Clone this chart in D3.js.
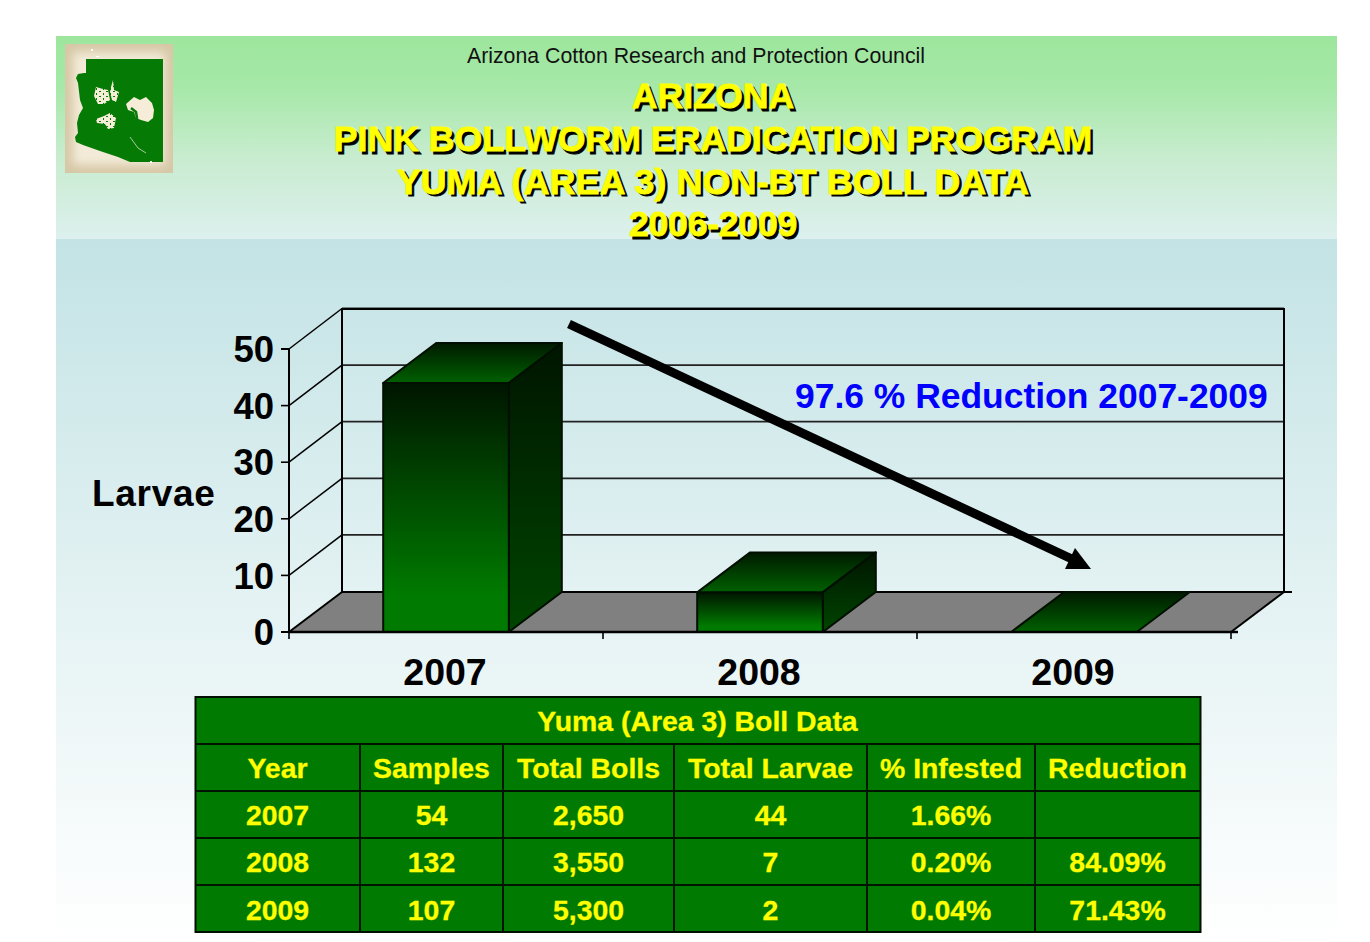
<!DOCTYPE html>
<html><head><meta charset="utf-8">
<script src="https://cdn.jsdelivr.net/npm/d3@7/dist/d3.min.js"></script>
<style>html,body{margin:0;padding:0;background:#fff}svg{display:block}text{font-family:"Liberation Sans",Arial,sans-serif}</style>
</head><body><svg id="c" width="1370" height="942"></svg>
<script>
const years = ["2007","2008","2009"];
const larvae = [44, 7, 0];
const yTicks = [0,10,20,30,40,50];
const titleLines = ["ARIZONA","PINK BOLLWORM ERADICATION PROGRAM","YUMA (AREA 3) NON-BT BOLL DATA","2006-2009"];
const titleSpacing = [0,0,0.22,-0.3];
const tableTitle = "Yuma (Area 3) Boll Data";
const tableHeaders = ["Year","Samples","Total Bolls","Total Larvae","% Infested","Reduction"];
const tableRows = [
  ["2007","54","2,650","44","1.66%",""],
  ["2008","132","3,550","7","0.20%","84.09%"],
  ["2009","107","5,300","2","0.04%","71.43%"]
];
const colEdges = [195,360,503,674,867,1035,1200];
const rowTop = 697, rowH = 47;

const svg = d3.select("#c");
const defs = svg.append("defs");
function grad(id, stops){
  const g = defs.append("linearGradient").attr("id",id).attr("x1",0).attr("y1",0).attr("x2",0).attr("y2",1);
  stops.forEach(([o,c])=>g.append("stop").attr("offset",o).attr("stop-color",c));
}
grad("head",[[0,"#9de69d"],[0.25,"#a6e8a8"],[0.6,"#c8eccf"],[1,"#ddf0ee"]]);
grad("body",[[0,"#c3e3e5"],[0.55,"#e6f3f4"],[1,"#ffffff"]]);
grad("front",[[0,"#001500"],[0.85,"#007a00"],[1,"#007a00"]]);
grad("top",[[0,"#001a00"],[1,"#006000"]]);
grad("side",[[0,"#001500"],[1,"#004500"]]);
const bev = defs.append("filter").attr("id","bev").attr("x","-20%").attr("y","-20%").attr("width","140%").attr("height","140%");
bev.append("feGaussianBlur").attr("stdDeviation",5);
const spk = defs.append("pattern").attr("id","spk").attr("width",7).attr("height",5).attr("patternUnits","userSpaceOnUse");
spk.append("rect").attr("width",7).attr("height",5).attr("fill","#f5edd8");
spk.append("rect").attr("x",1).attr("y",1).attr("width",2).attr("height",1).attr("fill","#0a7a0a");
spk.append("rect").attr("x",5).attr("y",3).attr("width",1).attr("height",2).attr("fill","#0a7a0a");

// background
svg.append("rect").attr("x",56).attr("y",239).attr("width",1281).attr("height",703).attr("fill","url(#body)");
svg.append("rect").attr("x",56).attr("y",36).attr("width",1281).attr("height",203).attr("fill","url(#head)");

// logo
const logo = svg.append("g");
logo.append("rect").attr("x",65).attr("y",44).attr("width",108).attr("height",129).attr("fill","#d6c8a6");
logo.append("rect").attr("x",73).attr("y",52).attr("width",92).attr("height",113).attr("fill","#f3ebd8").attr("filter","url(#bev)");
logo.append("path").attr("fill","#057a05")
  .attr("d","M86,59H163V162H130L118,157L100,151L83,145L76,142L75,137L78,133L77,123L79,115L83,108L80,100L78,83L76,78L78,74L84,73L86,73Z");
logo.append("g").attr("fill","url(#spk)").selectAll("path").data([
  "M96,87L103,89L108,90L110,100L104,104L98,104L94,96Z",
  "M111,87L113,80L114,90L119,92L116,102L112,100L110,92Z",
  "M96,119L104,116L110,113L116,118L114,128L108,129L105,124L97,123Z"
]).join("path").attr("d",d=>d);
logo.append("path").attr("fill","#f5edd8").attr("d","M126,104L134,97L140,100L146,97L152,103L154,110L153,118L148,122L141,120L136,118L134,112L128,110Z");
logo.append("path").attr("d","M130,137L138,148L146,153").attr("fill","none").attr("stroke","#cfe0c4").attr("stroke-width",0.8);
logo.append("path").attr("d","M131,108L136,112L137,118L134,120").attr("fill","none").attr("stroke","#0a7a0a").attr("stroke-width",2.5);
logo.append("rect").attr("x",91).attr("y",49).attr("width",2).attr("height",2).attr("fill","#fff");
logo.append("rect").attr("x",96).attr("y",56).attr("width",3).attr("height",1).attr("fill","#fff");
logo.append("rect").attr("x",150).attr("y",161).attr("width",2).attr("height",2).attr("fill","#fff");

// heading
svg.append("text").attr("x",696).attr("y",63).attr("text-anchor","middle").attr("font-size",21.3).attr("fill","#111").text("Arizona Cotton Research and Protection Council");
const tg = svg.append("g").attr("font-weight","bold").attr("font-size",35.7).attr("text-anchor","middle");
titleLines.forEach((t,i)=>{
  const yy = 108.3 + i*42.7;
  tg.append("text").attr("x",715.5).attr("y",yy+2.5).attr("letter-spacing",titleSpacing[i]).attr("fill","#000").attr("stroke","#000").attr("stroke-width",0.8).text(t);
  tg.append("text").attr("x",713).attr("y",yy).attr("letter-spacing",titleSpacing[i]).attr("fill","#ffff00").attr("stroke","#ffff00").attr("stroke-width",0.8).text(t);
});

// 3D chart scales
const front = {l:289,r:1231,b:632};
const dx = 53, dy = -40;
const x = d3.scaleBand().domain(years).range([front.l,front.r]).paddingInner(0.6).paddingOuter(0.3);
const xEdge = d3.scaleLinear().domain([0,3]).range([front.l,front.r]);
const y = d3.scaleLinear().domain([0,50]).range([front.b,front.b-283]);
const floorY = front.b+dy, line = d3.line();

const chart = svg.append("g");
chart.append("path").attr("fill","#808080")
  .attr("d",line([[front.l,front.b],[front.l+dx,floorY],[front.r+dx,floorY],[front.r,front.b]])+"Z");
const grid = chart.append("g").attr("stroke","#000").attr("fill","none");
yTicks.forEach(t=>{
  const yy=y(t);
  if(t>0){
    grid.append("path").attr("stroke-width",1.8).attr("stroke","#222").attr("d",line([[front.l+dx,yy+dy-0.5],[front.r+dx,yy+dy-0.5]]));
    grid.append("path").attr("stroke-width",1.5).attr("d",line([[front.l,yy],[front.l+dx,yy+dy-0.5]]));
  }
});
grid.append("path").attr("stroke-width",2).attr("d",line([[front.l+dx,y(0)+dy],[front.l+dx,y(50)+dy],[front.r+dx,y(50)+dy],[front.r+dx,y(0)+dy]]));
grid.append("path").attr("stroke-width",2).attr("d",line([[front.l,front.b],[front.l+dx,floorY]]));
grid.append("path").attr("stroke-width",2).attr("d",line([[front.l+dx,floorY],[front.r+dx+8,floorY]]));
grid.append("path").attr("stroke-width",2).attr("d",line([[front.r,front.b],[front.r+dx,floorY]]));

// bars
const bars = chart.append("g").attr("stroke","#000f00").attr("stroke-width",2).attr("stroke-linejoin","round");
years.forEach((yr,i)=>{
  const x0=x(yr), x1=x0+x.bandwidth(), yt=y(larvae[i]), yb=y(0);
  const g = bars.append("g");
  g.append("path").attr("fill","url(#top)").attr("d",line([[x0,yt],[x0+dx,yt+dy],[x1+dx,yt+dy],[x1,yt]])+"Z");
  if(larvae[i]>0){
    g.append("path").attr("fill","url(#side)").attr("d",line([[x1,yt],[x1+dx,yt+dy],[x1+dx,yb+dy],[x1,yb]])+"Z");
    g.append("rect").attr("x",x0).attr("y",yt).attr("width",x.bandwidth()).attr("height",yb-yt).attr("fill","url(#front)");
  }
});

// axes
const yAxis = d3.axisLeft(y).tickValues(yTicks).tickSize(8).tickPadding(7).offset(0);
const ya = chart.append("g").attr("transform",`translate(${front.l},0)`).call(yAxis);
ya.select(".domain").attr("stroke","#000").attr("stroke-width",2);
ya.selectAll(".tick line").attr("stroke","#000").attr("stroke-width",1.6);
ya.selectAll("text").attr("font-family",'"Liberation Sans",Arial,sans-serif').attr("font-size",36.5).attr("font-weight","bold").attr("fill","#000").attr("dy","0.36em");

const xTicks = d3.axisBottom(xEdge).tickValues([0,1,2,3]).tickSize(7).tickFormat("").offset(0);
const xa = chart.append("g").attr("transform",`translate(0,${front.b})`).call(xTicks);
xa.select(".domain").attr("stroke","#000").attr("stroke-width",2.4).attr("d",line([[front.l,0],[front.r+7,0]]));
xa.selectAll(".tick line").attr("stroke","#000").attr("stroke-width",1.6);
chart.append("g").selectAll("text").data(years).join("text")
  .attr("x",d=>x(d)+x.bandwidth()/2-1).attr("y",685).attr("text-anchor","middle")
  .attr("font-size",37.5).attr("font-weight","bold").attr("fill","#000").text(d=>d);
svg.append("text").attr("x",92).attr("y",506).attr("font-size",37).attr("font-weight","bold").attr("letter-spacing",0.7).attr("fill","#000").text("Larvae");

// arrow + note
svg.append("path").attr("stroke","#000").attr("stroke-width",9).attr("fill","none").attr("d",line([[569,324],[1074,560]]));
svg.append("path").attr("fill","#000").attr("d",line([[1075,548],[1091,569],[1065,569]])+"Z");
svg.append("text").attr("x",795).attr("y",408).attr("font-size",35.45).attr("font-weight","bold").attr("fill","#0000ff").text("97.6 % Reduction 2007-2009");

// table
const tb = svg.append("g");
const nRows = tableRows.length+2;
tb.append("rect").attr("x",colEdges[0]+0.5).attr("y",rowTop).attr("width",colEdges[6]-colEdges[0]).attr("height",nRows*rowH).attr("fill","#007a00").attr("stroke","#000f00").attr("stroke-width",2);
d3.range(1,nRows).forEach(r=>tb.append("path").attr("stroke","#001500").attr("stroke-width",2).attr("d",line([[colEdges[0],rowTop+r*rowH],[colEdges[6],rowTop+r*rowH]])));
colEdges.slice(1,-1).forEach(c=>tb.append("path").attr("stroke","#001500").attr("stroke-width",2).attr("d",line([[c,rowTop+rowH],[c,rowTop+nRows*rowH]])));
const tt = tb.append("g").attr("fill","#ffff00").attr("font-size",28.4).attr("font-weight","bold").attr("text-anchor","middle").attr("stroke","#ffff00").attr("stroke-width",0.3);
tt.append("text").attr("x",(colEdges[0]+colEdges[6])/2).attr("y",rowTop+34).text(tableTitle);
[tableHeaders,...tableRows].forEach((row,r)=>row.forEach((v,c)=>{
  tt.append("text").attr("x",(colEdges[c]+colEdges[c+1])/2).attr("y",rowTop+rowH*(r+1)+34+(r===3?0.6:0)).text(v);
}));
</script></body></html>
